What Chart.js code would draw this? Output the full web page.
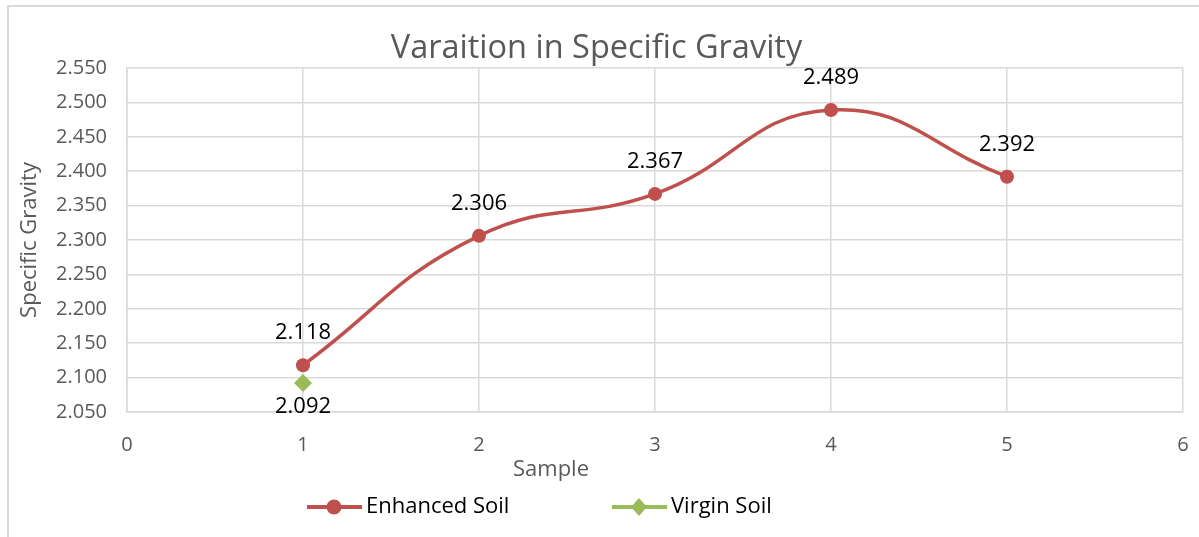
<!DOCTYPE html>
<html>
<head>
<meta charset="utf-8">
<script src="https://cdn.jsdelivr.net/npm/chart.js@4.4.1/dist/chart.umd.min.js"></script>
<style>
    html, body { margin: 0; padding: 0; background: #fff; }
    #wrap { position: relative; width: 1199px; height: 537px; overflow: hidden; }
    #frame { position: absolute; left: 7px; top: 5px; right: -4px; bottom: -4px; border-left: 2px solid #d9d9d9; border-top: 2px solid #d9d9d9; }
    canvas { position: absolute; left: 0; top: 0; }
</style>
</head>
<body>
<div id="wrap">
    <div id="frame"></div>
    <canvas id="sgChart" width="1199" height="537"></canvas>
</div>
<script>
const samples = [1, 2, 3, 4, 5];
const enhancedSoil = [2.118, 2.306, 2.367, 2.489, 2.392];
const virginSamples = [1];
const virginSoil = [2.092];
const seriesNames = ['Enhanced Soil', 'Virgin Soil'];
const xAxisName = 'Sample';

const FONT = "'Open Sans', 'Noto Sans', sans-serif";
const RED = '#c0504d';
const GREEN = '#9bbb59';
const GREY_TEXT = '#595959';
const GRID = '#d9d9d9';

// value labels next to each point
const valueLabels = {
    id: 'valueLabels',
    afterDatasetsDraw(chart) {
        const ctx = chart.ctx;
        ctx.save();
        ctx.font = `22px ${FONT}`;
        ctx.fillStyle = '#000';
        ctx.textAlign = 'center';
        ctx.textBaseline = 'middle';
        chart.data.datasets.forEach((ds, i) => {
            const meta = chart.getDatasetMeta(i);
            const dy = i === 0 ? -32 : 24;
            meta.data.forEach((pt, j) => {
                ctx.fillText(ds.data[j].y.toFixed(3), pt.x, pt.y + dy);
            });
        });
        ctx.restore();
    }
};

// Excel-like legend (line with marker in the middle) + x axis name, placed like the original
const lineLegend = {
    id: 'lineLegend',
    afterDraw(chart) {
        const ctx = chart.ctx;
        ctx.save();
        ctx.font = `22px ${FONT}`;
        ctx.fillStyle = GREY_TEXT;
        ctx.textAlign = 'center';
        ctx.textBaseline = 'middle';
        ctx.fillText(xAxisName, 551, 470);

        const slots = [307, 612];
        const y = 507;
        chart.data.datasets.forEach((ds, i) => {
            const x0 = slots[i];
            ctx.strokeStyle = ds.borderColor;
            ctx.lineWidth = 4;
            ctx.beginPath();
            ctx.moveTo(x0, y);
            ctx.lineTo(x0 + 55, y);
            ctx.stroke();
            ctx.fillStyle = ds.pointBackgroundColor;
            const cx = x0 + 27;
            ctx.beginPath();
            if (ds.pointStyle === 'rectRot') {
                ctx.moveTo(cx, y - 9);
                ctx.lineTo(cx + 8, y);
                ctx.lineTo(cx, y + 9);
                ctx.lineTo(cx - 8, y);
                ctx.closePath();
            } else {
                ctx.arc(cx, y, 7.5, 0, Math.PI * 2);
            }
            ctx.fill();
            ctx.fillStyle = '#000';
            ctx.textAlign = 'left';
            ctx.fillText(ds.label, x0 + 59, y);
        });
        ctx.restore();
    }
};

new Chart(document.getElementById('sgChart'), {
    type: 'scatter',
    data: {
        datasets: [{
            label: seriesNames[0],
            data: samples.map((s, i) => ({ x: s, y: enhancedSoil[i] })),
            showLine: true,
            tension: 0.45,
            borderColor: RED,
            borderWidth: 3.5,
            pointStyle: 'circle',
            pointRadius: 7,
            pointBackgroundColor: RED,
            pointBorderColor: RED,
            pointBorderWidth: 0
        }, {
            label: seriesNames[1],
            data: virginSamples.map((s, i) => ({ x: s, y: virginSoil[i] })),
            showLine: true,
            borderColor: GREEN,
            borderWidth: 3.5,
            pointStyle: 'rectRot',
            pointRadius: 9,
            pointBackgroundColor: GREEN,
            pointBorderColor: GREEN,
            pointBorderWidth: 0
        }]
    },
    options: {
        responsive: false,
        animation: false,
        layout: { padding: { top: 24, left: 10, right: 16, bottom: 49 } },
        plugins: {
            legend: { display: false },
            tooltip: { enabled: false },
            title: {
                display: true,
                text: 'Varaition in Specific Gravity',
                color: GREY_TEXT,
                font: { family: FONT, size: 32.5, weight: 'normal' },
                padding: { top: 5, bottom: 0 }
            }
        },
        scales: {
            x: {
                type: 'linear',
                min: 0,
                max: 6,
                ticks: { stepSize: 1, color: GREY_TEXT, font: { family: FONT, size: 20 }, padding: 21 },
                grid: { color: GRID, lineWidth: 1.5, drawTicks: false },
                border: { color: GRID, width: 1.5 },
                afterFit: (s) => {
                    s.height = 76;
                    s.paddingLeft = 0;
                    s.paddingRight = 0;
                }
            },
            y: {
                min: 2.05,
                max: 2.55,
                ticks: {
                    stepSize: 0.05,
                    color: GREY_TEXT,
                    font: { family: FONT, size: 20 },
                    padding: 20,
                    callback: (v) => v.toFixed(3)
                },
                grid: { color: GRID, lineWidth: 1.5, drawTicks: false },
                border: { color: GRID, width: 1.5 },
                title: {
                    display: true,
                    text: 'Specific Gravity',
                    color: GREY_TEXT,
                    font: { family: FONT, size: 22 },
                    padding: { top: 7, bottom: 0 }
                },
                afterFit: (s) => { s.width = 117; }
            }
        }
    },
    plugins: [valueLabels, lineLegend]
});
</script>
</body>
</html>
